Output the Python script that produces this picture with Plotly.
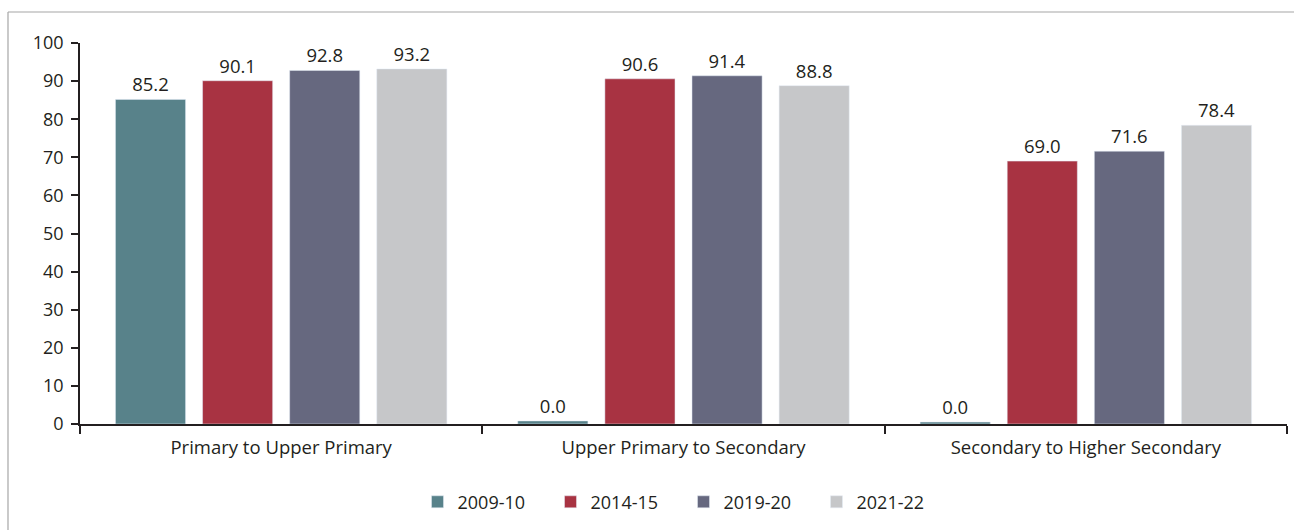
import plotly.graph_objects as go

categories = ["Primary to Upper Primary", "Upper Primary to Secondary", "Secondary to Higher Secondary"]
series_names = ["2009-10", "2014-15", "2019-20", "2021-22"]
values_2009 = [85.2, 0.8, 0.5]
values_2014 = [90.1, 90.6, 69.0]
values_2019 = [92.8, 91.4, 71.6]
values_2021 = [93.2, 88.8, 78.4]
labels_2009 = ["85.2", "0.0", "0.0"]
labels_2014 = ["90.1", "90.6", "69.0"]
labels_2019 = ["92.8", "91.4", "71.6"]
labels_2021 = ["93.2", "88.8", "78.4"]
y_ticks = [0, 10, 20, 30, 40, 50, 60, 70, 80, 90, 100]

colors = ["#58828a", "#a83342", "#66687f", "#c6c7c9"]
FONT = "Open Sans"
TXT = "#231f20"

fig = go.Figure()
for name, vals, labs, col in zip(series_names,
                                 [values_2009, values_2014, values_2019, values_2021],
                                 [labels_2009, labels_2014, labels_2019, labels_2021],
                                 colors):
    fig.add_trace(go.Bar(
        x=categories, y=vals, name=name, marker_color=col,
        text=labs, textposition="outside", cliponaxis=False,
        textfont=dict(family=FONT, size=18.5, color=TXT),
    ))

fig.update_layout(
    width=1294, height=530,
    margin=dict(l=80, r=7, t=43, b=106),
    paper_bgcolor="white", plot_bgcolor="white",
    barmode="group", bargap=0.134, bargroupgap=0.195,
    font=dict(family=FONT, size=18, color=TXT),
    showlegend=True,
    legend=dict(orientation="h", x=0.5, xanchor="center", y=-0.205, yanchor="middle",
                font=dict(family=FONT, size=18, color=TXT),
                entrywidth=88, itemwidth=30),
    xaxis=dict(showline=True, linecolor="#231f20", linewidth=1.5,
               ticks="outside", tickson="boundaries", ticklen=8, tickcolor="#231f20",
               tickwidth=1.5, tickfont=dict(family=FONT, size=18.5, color=TXT),
               ticklabelstandoff=6,
               showgrid=False, zeroline=False),
    yaxis=dict(range=[0, 100], tickvals=y_ticks, showline=True, linecolor="#231f20",
               linewidth=1.5, ticks="outside", ticklen=7, tickcolor="#231f20", tickwidth=1.5,
               tickfont=dict(family=FONT, size=18, color=TXT), ticklabelstandoff=4,
               showgrid=False, zeroline=False),
)

# outer frame (left and top edges)
x_left = -72 / 1207
y_top = (424 - 12) / 381
fig.add_shape(type="line", xref="paper", yref="paper", x0=x_left, x1=1.2, y0=y_top, y1=y_top,
              line=dict(color="#a6a6a6", width=1.2))
fig.add_shape(type="line", xref="paper", yref="paper", x0=x_left, x1=x_left, y0=y_top, y1=-0.5,
              line=dict(color="#a6a6a6", width=1.2))

fig.write_html("out.html")
